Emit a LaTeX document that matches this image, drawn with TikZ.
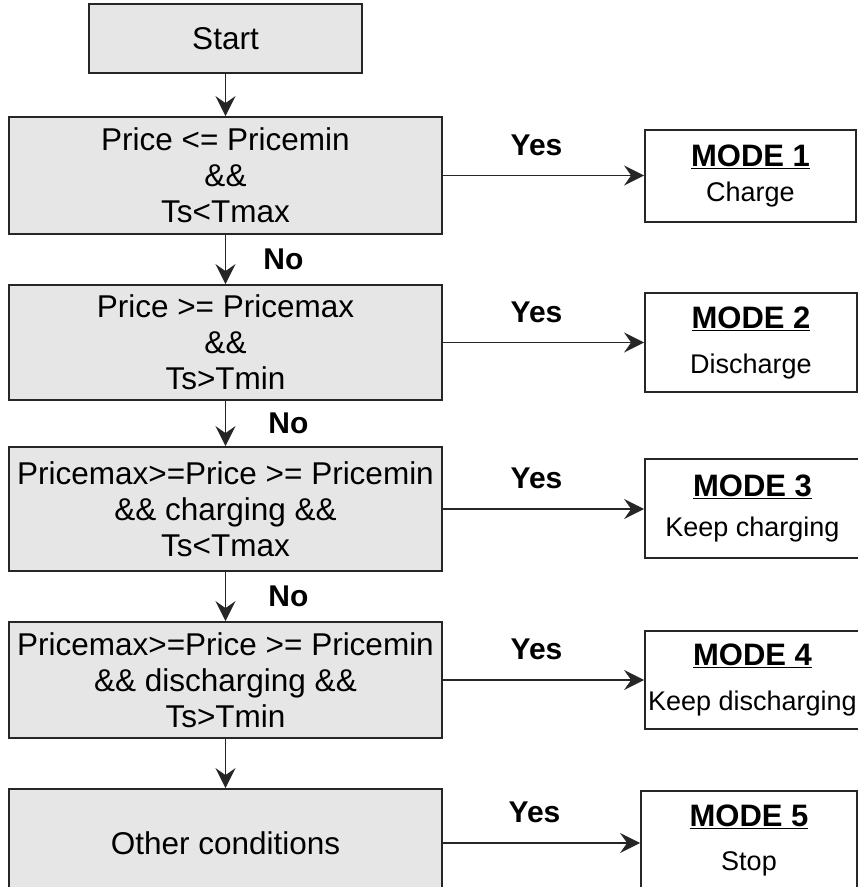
\documentclass[tikz,border=0pt]{standalone}
\usepackage{fontspec}
\setmainfont{Liberation Sans}
\usetikzlibrary{arrows.meta, positioning}
\definecolor{boxGray}{HTML}{E6E6E6}
\definecolor{lineDark}{HTML}{262626}

\tikzset{
  condbox/.style={draw=lineDark, line width=1.8pt, fill=boxGray, minimum width=433pt,
    align=center, inner sep=0pt, font=\fontsize{31.5}{36}\selectfont},
  modebox/.style={draw=lineDark, line width=1.8pt, fill=white, align=center,
    inner sep=0pt, font=\fontsize{27}{32}\selectfont},
  flow/.style={-{Stealth[length=20pt, width=20pt, inset=7pt]}, line width=1.8pt, lineDark},
  answer/.style={font=\fontsize{30}{36}\selectfont\bfseries, inner sep=0pt, text=black},
}
\newcommand{\modetext}[3]{{\fontsize{31}{36}\selectfont\bfseries\underline{MODE #1}}\\[#3]#2}

\begin{document}
\begin{tikzpicture}[x=1pt, y=-1pt]
  \useasboundingbox (0,0) rectangle (858,887);
  % condition column
  \node[condbox, minimum width=273pt, minimum height=69pt] (start) at (225.5,38.5) {Start};
  \node[condbox, minimum height=117pt] (c1) at (225.5,175.5)
    {Price <= Pricemin\\\&\&\\Ts<Tmax};
  \node[condbox, minimum height=115pt] (c2) at (225.5,342.5)
    {Price >= Pricemax\\\&\&\\Ts>Tmin};
  \node[condbox, minimum height=124pt] (c3) at (225.5,509)
    {Pricemax>=Price >= Pricemin\\\&\& charging \&\&\\Ts<Tmax};
  \node[condbox, minimum height=116pt] (c4) at (225.5,680)
    {Pricemax>=Price >= Pricemin\\\&\& discharging \&\&\\Ts>Tmin};
  \node[condbox, minimum height=108pt] (c5) at (225.5,843) {Other conditions};
  % modes
  \node[modebox, minimum width=211pt, minimum height=92pt] (m1) at (750.5,176)
    {\modetext{1}{Charge}{3pt}};
  \node[modebox, minimum width=212pt, minimum height=99pt] (m2) at (751,342.5)
    {\modetext{2}{Discharge}{13pt}};
  \node[modebox, minimum width=215pt, minimum height=99pt] (m3) at (752.5,508.5)
    {\modetext{3}{Keep charging}{8pt}};
  \node[modebox, minimum width=215pt, minimum height=98pt] (m4) at (752.5,680)
    {\modetext{4}{Keep discharging}{13pt}};
  \node[modebox, minimum width=216pt, minimum height=98pt] (m5) at (749,840)
    {\modetext{5}{Stop}{12pt}};
  % No branches
  \draw[flow] (start) -- (c1);
  \draw[flow] (c1) -- node[answer, right=37pt] {No} (c2);
  \draw[flow] (c2) -- node[answer, right=42pt] {No} (c3);
  \draw[flow] (c3) -- node[answer, right=42pt] {No} (c4);
  \draw[flow] (c4) -- (c5);
  % Yes branches
  \draw[flow] (c1.east) -- node[answer, above=19pt, xshift=-7pt] {Yes} (c1.east -| m1.west);
  \draw[flow] (c2.east) -- node[answer, above=19pt, xshift=-7pt] {Yes} (c2.east -| m2.west);
  \draw[flow] (c3.east) -- node[answer, above=19pt, xshift=-7pt] {Yes} (c3.east -| m3.west);
  \draw[flow] (c4.east) -- node[answer, above=19pt, xshift=-7pt] {Yes} (c4.east -| m4.west);
  \draw[flow] (c5.east) -- node[answer, above=19pt, xshift=-7pt] {Yes} (c5.east -| m5.west);
\end{tikzpicture}
\end{document}
